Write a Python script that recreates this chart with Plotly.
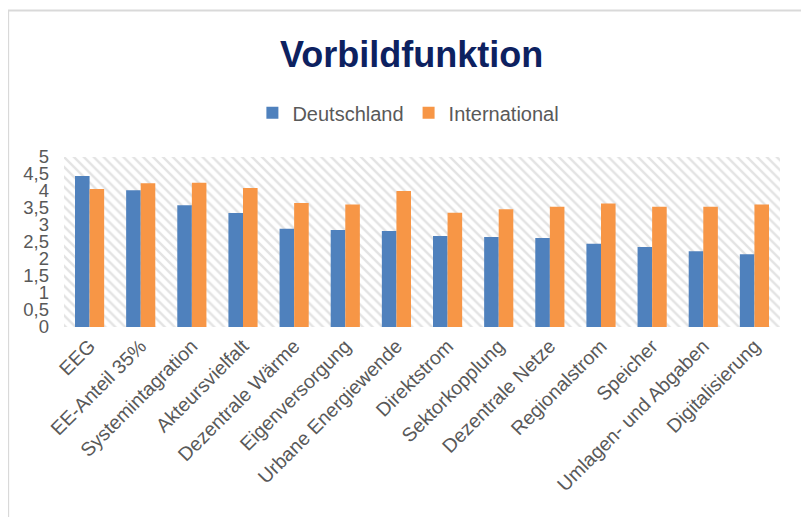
import plotly.graph_objects as go

categories = ["EEG", "EE-Anteil 35%", "Systemintagration", "Akteursvielfalt",
              "Dezentrale Wärme", "Eigenversorgung", "Urbane Energiewende",
              "Direktstrom", "Sektorkopplung", "Dezentrale Netze",
              "Regionalstrom", "Speicher", "Umlagen- und Abgaben", "Digitalisierung"]
deutschland = [4.44, 4.02, 3.58, 3.35, 2.89, 2.85, 2.82, 2.68, 2.65, 2.62, 2.45, 2.35, 2.23, 2.14]
international = [4.06, 4.23, 4.24, 4.09, 3.65, 3.60, 4.00, 3.36, 3.46, 3.54, 3.63, 3.54, 3.54, 3.60]
tick_vals = [0, 0.5, 1, 1.5, 2, 2.5, 3, 3.5, 4, 4.5, 5]
tick_text = ["0", "0,5", "1", "1,5", "2", "2,5", "3", "3,5", "4", "4,5", "5"]

FONT = "Liberation Sans, Arial, sans-serif"
GRAY = "#595959"

fig = go.Figure()

# hatched plot background
fig.add_trace(go.Bar(
    x=[0.5], y=[5], width=[1], xaxis="x", yaxis="y", showlegend=False, hoverinfo="skip",
    marker=dict(color="white", line=dict(width=0),
                pattern=dict(shape="\\", fgcolor="#c8c8c8", bgcolor="white", size=7, solidity=0.35)),
))

fig.add_trace(go.Bar(name="Deutschland", x=categories, y=deutschland, xaxis="x2", yaxis="y",
                     marker=dict(color="#4F81BD", line=dict(width=0))))
fig.add_trace(go.Bar(name="International", x=categories, y=international, xaxis="x2", yaxis="y",
                     marker=dict(color="#F79646", line=dict(width=0))))

fig.update_layout(
    width=809, height=517,
    margin=dict(l=56, r=37, t=149, b=198),
    paper_bgcolor="white", plot_bgcolor="white",
    font=dict(family=FONT, color=GRAY, size=18),
    title=dict(text="<b>Vorbildfunktion</b>", x=0.499, xanchor="center", y=0.911, yanchor="middle",
               font=dict(family=FONT, size=36, color="#0D2160")),
    barmode="group", bargap=0.43, bargroupgap=0,
    legend=dict(orientation="h", x=0.481, xanchor="center", y=1.26, yanchor="middle",
                font=dict(size=20, color=GRAY), itemsizing="constant", traceorder="normal"),
    xaxis=dict(range=[0, 1], visible=False, fixedrange=True),
    xaxis2=dict(overlaying="x", anchor="y", side="bottom", type="category", tickangle=-45,
                showgrid=False, showline=False, ticks="", ticklabelstandoff=3,
                tickfont=dict(size=19.5, color=GRAY)),
    yaxis=dict(range=[0, 5], tickvals=tick_vals, ticktext=tick_text, showgrid=False,
               showline=False, zeroline=False, ticks="", ticklabelstandoff=14,
               tickfont=dict(size=18.5, color=GRAY)),
    shapes=[dict(type="rect", xref="paper", yref="paper", x0=-0.078, x1=1.06, y0=-1.2, y1=1.862,
                 line=dict(color="#d9d9d9", width=2), fillcolor="rgba(0,0,0,0)", layer="below")],
)

fig.write_html("out.html")
